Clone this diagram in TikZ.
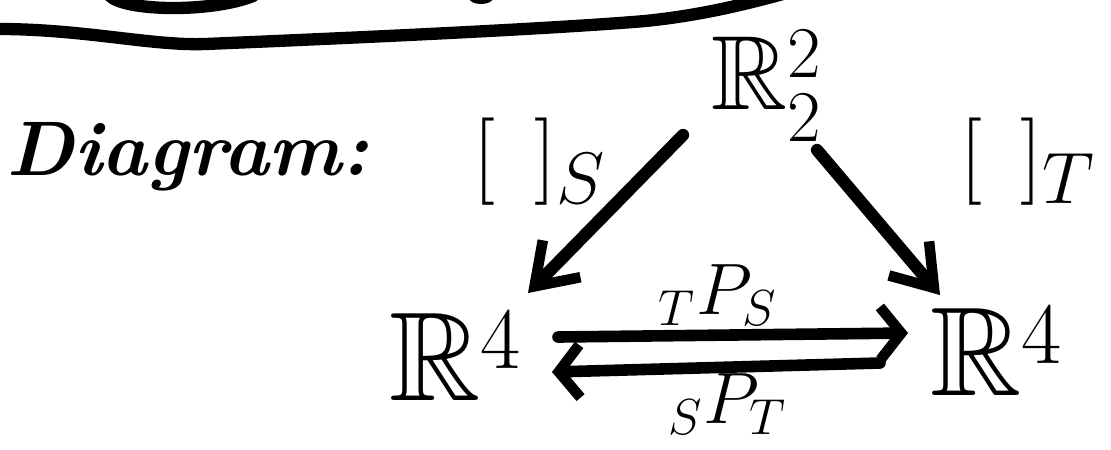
\documentclass[tikz,border=0pt]{standalone}
\usepackage{amsmath, amssymb}
\usepackage{xcolor}
\usepackage{tikz}
\usetikzlibrary{arrows.meta, positioning}

\begin{document}
\begin{tikzpicture}[x=0.1mm, y=-0.1mm,
  space/.style={inner sep=0pt, font=\fontsize{36}{40}\selectfont},
  lbl/.style={inner sep=0pt, font=\fontsize{28}{32}\selectfont},
  mlbl/.style={inner sep=0pt, font=\fontsize{21}{24}\selectfont},
  darr/.style={-{Straight Barb[length=11pt, width=15pt, line width=3pt]}, line width=3.5pt, line cap=round},
  harr/.style={-{Straight Barb[length=6pt, width=15pt, line width=3pt]}, line width=3.3pt, line cap=round},
  pen/.style={line width=3.5pt, line cap=round}
]
\useasboundingbox (0,0) rectangle (1111,449);

% Scraps of the section above
\draw[pen] (-10,29) .. controls (80,28) and (150,46) .. (205,44)
  .. controls (350,38) and (550,29) .. (645,21)
  .. controls (695,16) and (740,6) .. (790,-8);
\draw[pen] (110,-4) .. controls (125,11) and (210,13) .. (253,-4);
\fill (481,-2) ellipse (12 and 6);

% Title
\node[anchor=base, inner sep=0pt, font=\fontsize{22}{26}\selectfont\bfseries\itshape] (title) at (188,175) {Diagram:};

% Spaces
\node[space, font=\fontsize{30}{34}\selectfont] (top) at (767,86) {$\mathbb{R}^2_2$};
\node[space] (left)  at (456,356) {$\mathbb{R}^4$};
\node[space] (right) at (997,351) {$\mathbb{R}^4$};

% Coordinate maps
\draw[darr] ([xshift=-8.4mm, yshift=-4.9mm]top.center) -- ([xshift=7.2mm, yshift=6.3mm]left.center);
\draw[darr] ([xshift=5mm, yshift=-6.4mm]top.center) -- ([xshift=-5.7mm, yshift=5.6mm]right.center);
\node[lbl] (cs) at (540,162) {$[\;\,]_S$};
\node[lbl] (ct) at (1028,162) {$[\;\,]_T$};

% Change of basis
\draw[harr] ([xshift=10.2mm, yshift=1.9mm]left.center) -- ([xshift=-8.9mm, yshift=1.8mm]right.center);
\draw[harr] ([xshift=-11.7mm, yshift=-1.2mm]right.center) -- ([xshift=9.6mm, yshift=-1.6mm]left.center);
\node[mlbl] (pts) at (718,295) {${}_T P_S$};
\node[mlbl] (spt) at (728,404) {${}_S P_T$};
\end{tikzpicture}
\end{document}
